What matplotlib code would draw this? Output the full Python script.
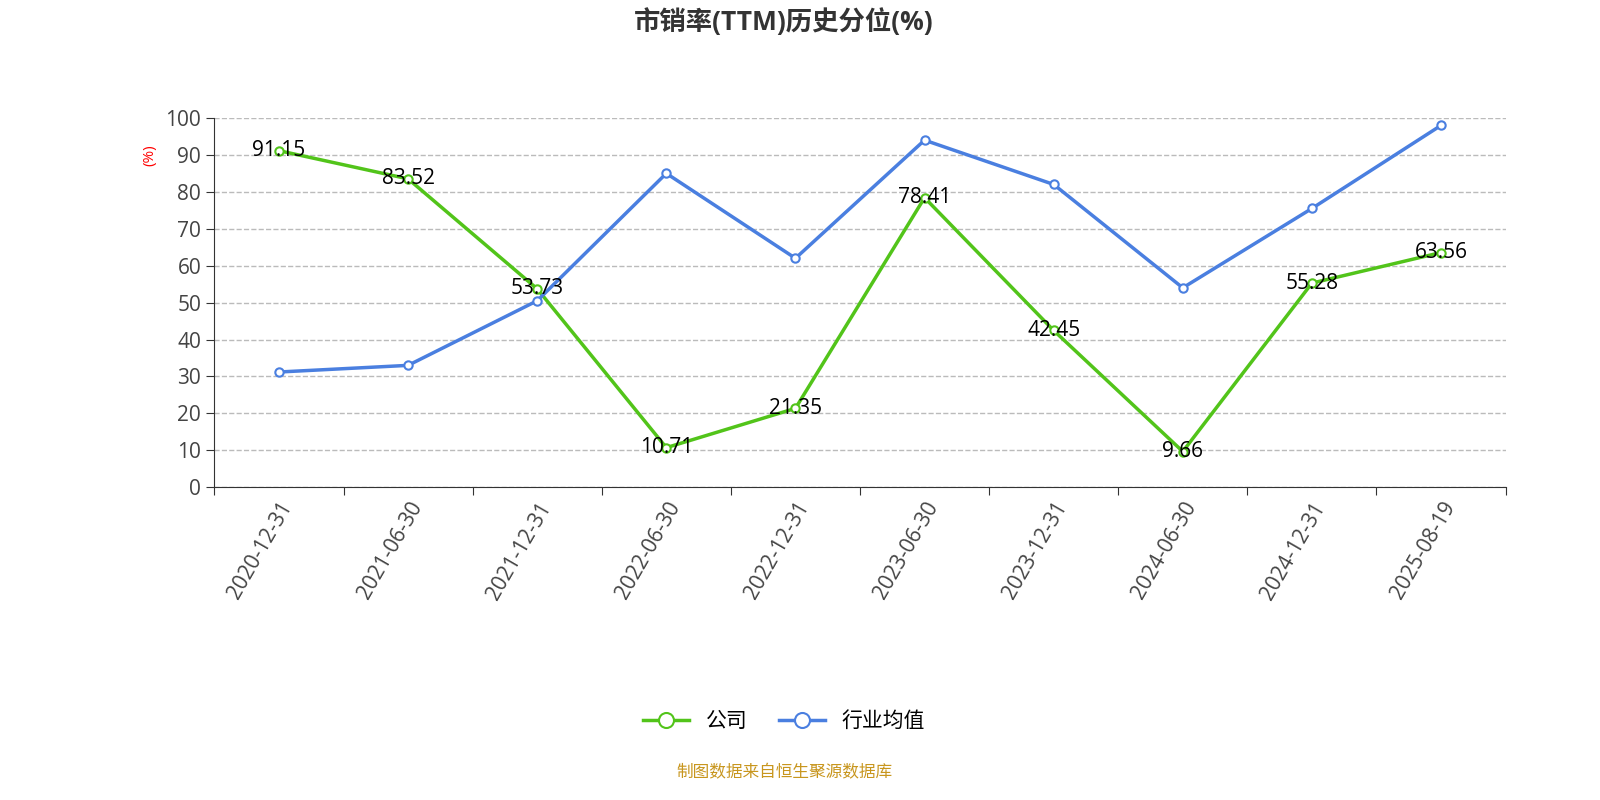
import numpy as np
import matplotlib
matplotlib.use("Agg")
import matplotlib.pyplot as plt

plt.rcParams['font.family'] = ['Open Sans', 'Noto Sans CJK SC', 'DejaVu Sans']

dates = ["2020-12-31", "2021-06-30", "2021-12-31", "2022-06-30", "2022-12-31",
         "2023-06-30", "2023-12-31", "2024-06-30", "2024-12-31", "2025-08-19"]
company = [91.15, 83.52, 53.73, 10.71, 21.35, 78.41, 42.45, 9.66, 55.28, 63.56]
industry = [31.2, 33.0, 50.5, 85.0, 62.0, 94.0, 82.0, 54.0, 75.5, 98.0]

GREEN = "#52c41a"
BLUE = "#4a7fe0"

fig = plt.figure(figsize=(16, 8), dpi=100)
ax = fig.add_axes([0.134, 0.391, 0.807, 0.4615])
x = np.arange(len(dates))
ax.plot(x, company, "-o", color=GREEN, lw=2.5, ms=6, mfc="white", mec=GREEN, mew=1.5, label="公司", zorder=3)
ax.plot(x, industry, "-o", color=BLUE, lw=2.5, ms=6, mfc="white", mec=BLUE, mew=1.5, label="行业均值", zorder=3)
for xi, v in zip(x, company):
    ax.text(xi, v, f"{v:.2f}", ha="center", va="center", fontsize=15, color="black", zorder=4)

ax.set_xlim(-0.5, len(dates) - 0.5)
ax.set_ylim(0, 100)
ax.set_yticks(range(0, 101, 10))
ax.set_xticks(np.arange(-0.5, len(dates), 1.0))
ax.set_xticklabels([])
ax.set_xticks(x, minor=True)
ax.set_xticklabels(dates, minor=True, rotation=60, ha="right", rotation_mode="anchor", fontsize=15, color="#444")
ax.tick_params(axis="x", which="minor", length=0, pad=8)
ax.tick_params(axis="x", which="major", length=6, color="#333")
ax.tick_params(axis="y", length=6, labelsize=15, labelcolor="#444", color="#333")
ax.grid(axis="y", ls="--", color="#bbb", lw=1)
for s in ("top", "right"):
    ax.spines[s].set_visible(False)
ax.spines["left"].set_color("#333")
ax.spines["bottom"].set_color("#333")
ax.text(-0.05, 0.9, "(%)", transform=ax.transAxes, rotation=90, color="red", fontsize=11, ha="center", va="center")

fig.text(0.49, 0.972, "市销率(TTM)历史分位(%)", ha="center", va="center", fontsize=19, fontweight="bold", color="#333")
fig.legend(loc="center", bbox_to_anchor=(0.49, 0.098), ncol=2, frameon=False, fontsize=15,
           handlelength=2.2, markerscale=1.8, columnspacing=1.5)
fig.text(0.49, 0.034, "制图数据来自恒生聚源数据库", ha="center", va="center", fontsize=12, color="#c8961e")
fig.savefig("out.png", dpi=100)
